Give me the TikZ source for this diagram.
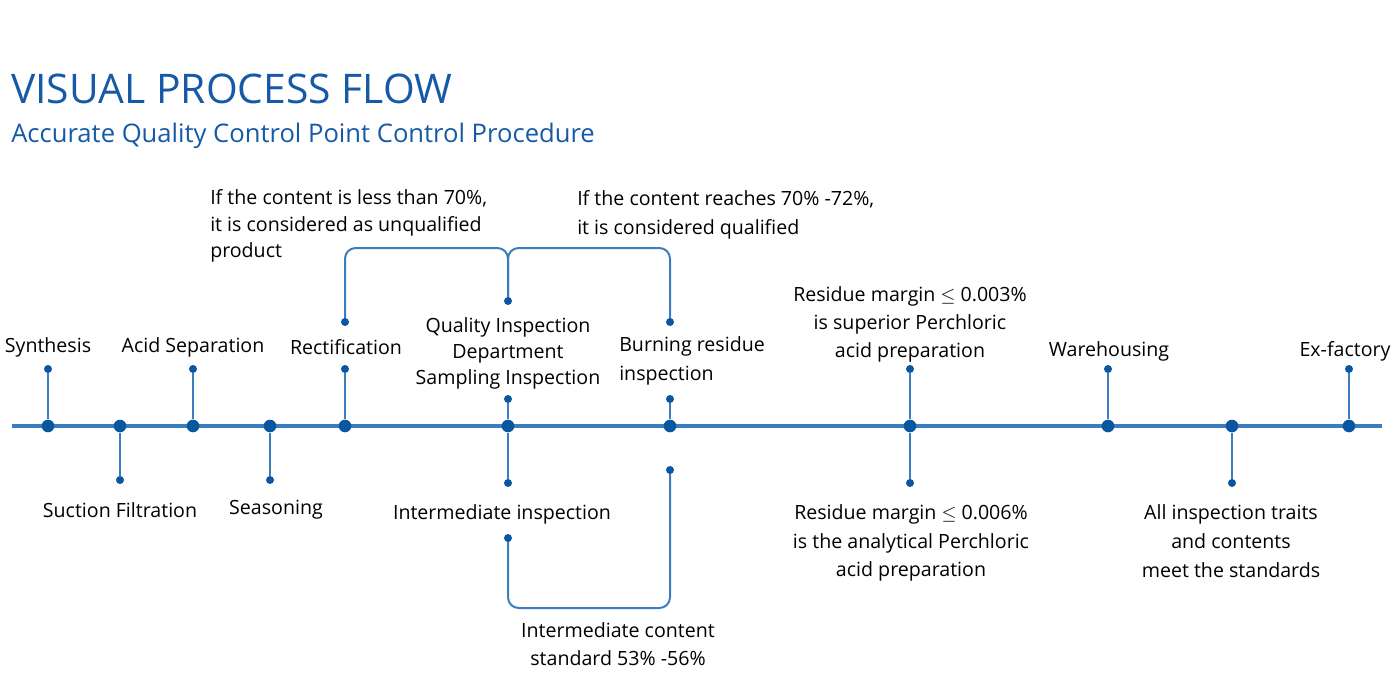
\documentclass[tikz,border=0pt]{standalone}
\usepackage{fontspec}
\setmainfont{Open Sans}
\usetikzlibrary{positioning,backgrounds}
\definecolor{flowblue}{HTML}{3C7DC0}
\definecolor{dotblue}{HTML}{0B56A1}
\definecolor{titleblue}{HTML}{1659A6}

\begin{document}
\begin{tikzpicture}[
  x=0.75pt, y=-0.75pt,
  font=\fontsize{14.7}{20}\selectfont,
  bigdot/.style={circle, fill=dotblue, inner sep=0pt, minimum size=9.5pt},
  smalldot/.style={circle, fill=dotblue, inner sep=0pt, minimum size=6pt},
  lbl/.style={align=center, inner sep=0pt},
  lblleft/.style={align=left, inner sep=0pt},
  stem/.style={draw=flowblue, line width=1.8pt},
  link/.style={draw=flowblue, line width=1.5pt, rounded corners=8pt},
]
\useasboundingbox (0,0) rectangle (1400,700);

% heading
\node[anchor=west, inner sep=0pt, titleblue, font=\fontsize{30.6}{36}\selectfont]
  (title) at (11,89) {VISUAL PROCESS FLOW};
\node[anchor=west, inner sep=0pt, titleblue, font=\fontsize{19.2}{22}\selectfont]
  (subtitle) at (11,136) {Accurate Quality Control Point Control Procedure};

% points on the line
\node[bigdot] (syn)  at (48,426)   {};
\node[bigdot] (suc)  at (120,426)  {};
\node[bigdot] (acid) at (193,426)  {};
\node[bigdot] (sea)  at (270,426)  {};
\node[bigdot] (rect) at (345,426)  {};
\node[bigdot] (qi)   at (508,426)  {};
\node[bigdot] (burn) at (670,426)  {};
\node[bigdot] (res)  at (910,426)  {};
\node[bigdot] (ware) at (1108,426) {};
\node[bigdot] (all)  at (1232,426) {};
\node[bigdot] (exf)  at (1349,426) {};

% stem ends
\node[smalldot] (syn-t)  at (48,369)   {};
\node[smalldot] (suc-b)  at (120,480)  {};
\node[smalldot] (acid-t) at (193,369)  {};
\node[smalldot] (sea-b)  at (270,480)  {};
\node[smalldot] (rect-t) at (345,369)  {};
\node[smalldot] (qi-t)   at (508,399)  {};
\node[smalldot] (qi-b)   at (508,483)  {};
\node[smalldot] (burn-t) at (670,399)  {};
\node[smalldot] (res-t)  at (910,369)  {};
\node[smalldot] (res-b)  at (910,483)  {};
\node[smalldot] (ware-t) at (1108,369) {};
\node[smalldot] (all-b)  at (1232,483) {};
\node[smalldot] (exf-t)  at (1349,369) {};

% bracket ends
\node[smalldot] (rect-k) at (345,322) {};
\node[smalldot] (qi-k)   at (508,301) {};
\node[smalldot] (burn-k) at (670,322) {};
\node[smalldot] (mid-k)  at (508,538) {};
\node[smalldot] (burn-j) at (670,470) {};

\begin{scope}[on background layer]
% time line
\coordinate (lstart) at (12,426);
\coordinate (lend)   at (1382,426);
\draw[flowblue, line width=2.3pt] (lstart) -- (lend);

\draw[stem] (syn-t)  -- (syn);
\draw[stem] (suc-b)  -- (suc);
\draw[stem] (acid-t) -- (acid);
\draw[stem] (sea-b)  -- (sea);
\draw[stem] (rect-t) -- (rect);
\draw[stem] (qi-t)   -- (qi);
\draw[stem] (qi-b)   -- (qi);
\draw[stem] (burn-t) -- (burn);
\draw[stem] (res-t)  -- (res);
\draw[stem] (res-b)  -- (res);
\draw[stem] (ware-t) -- (ware);
\draw[stem] (all-b)  -- (all);
\draw[stem] (exf-t)  -- (exf);

% brackets
\draw[link] (rect-k.center) -- (345,248) -- (508,248) -- (qi-k.center);
\draw[link] (burn-k.center) -- (670,248) -- (508,248) -- (qi-k.center);
\draw[link] (mid-k.center) -- (508,608) -- (670,608) -- (burn-j.center);
\end{scope}

% labels
\node[lbl] (syn-l)  at (48,347)   {Synthesis};
\node[lbl] (suc-l)  at (120,510)  {Suction Filtration};
\node[lbl] (acid-l) at (193,347)  {Acid Separation};
\node[lbl] (sea-l)  at (276,510)  {Seasoning};
\node[lbl] (rect-l) at (346,347)  {Rectification};
\node[lbl, font=\fontsize{14.7}{19.5}\selectfont]
  (qi-l) at (508,353) {Quality Inspection\\Department\\Sampling Inspection};
\node[lblleft, anchor=west, font=\fontsize{14.7}{21.5}\selectfont]
  (burn-l) at (619,361) {Burning residue\\inspection};
\node[lbl] (mid-l)  at (502,514)  {Intermediate inspection};
\node[lbl, font=\fontsize{14.7}{21}\selectfont]
  (res-tl) at (910,324) {Residue margin $\leq$ 0.003\%\\is superior Perchloric\\acid preparation};
\node[lbl, font=\fontsize{14.7}{21.5}\selectfont]
  (res-bl) at (911,543) {Residue margin $\leq$ 0.006\%\\is the analytical Perchloric\\acid preparation};
\node[lbl] (ware-l) at (1109,351) {Warehousing};
\node[lbl] (exf-l)  at (1345,351) {Ex-factory};
\node[lbl, font=\fontsize{14.7}{21.5}\selectfont]
  (all-l) at (1231,541) {All inspection traits\\and contents\\meet the standards};
\node[lblleft, anchor=west, font=\fontsize{14.7}{20}\selectfont]
  (less-l) at (210,226) {If the content is less than 70\%,\\it is considered as unqualified\\product};
\node[lblleft, anchor=west, font=\fontsize{14.7}{21.5}\selectfont]
  (ok-l) at (577,215) {If the content reaches 70\% -72\%,\\it is considered qualified};
\node[lbl, font=\fontsize{14.7}{21.5}\selectfont]
  (std-l) at (618,644) {Intermediate content\\standard 53\% -56\%};

\end{tikzpicture}
\end{document}
